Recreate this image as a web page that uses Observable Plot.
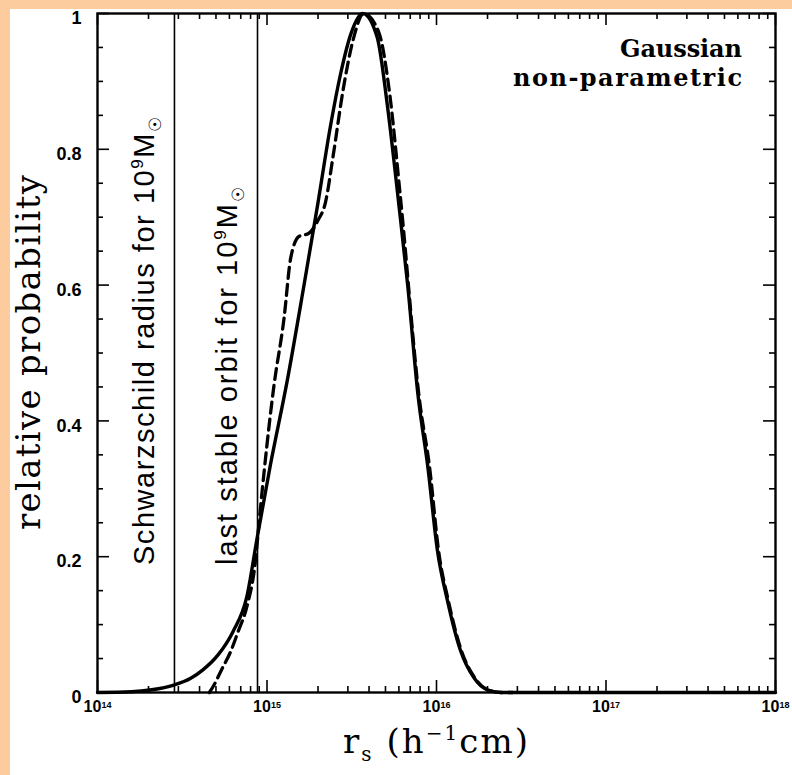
<!DOCTYPE html>
<html><head><meta charset="utf-8">
<script src="https://cdn.jsdelivr.net/npm/d3@7"></script>
<script src="https://cdn.jsdelivr.net/npm/@observablehq/plot@0.6"></script>
<style>
html,body{margin:0;padding:0;background:#fdcc9e;width:792px;height:775px;overflow:hidden}
#chart{position:absolute;left:10px;top:9px;width:782px;height:766px;background:#fff}
</style></head><body><div id="chart"></div>
<script>
// Gaussian model (solid): log10(r_s / h^-1 cm) and relative probability
const gaussLogR = [14.00, 14.20, 14.32, 14.45, 14.55, 14.62, 14.71, 14.80, 14.88, 14.94, 15.02, 15.12, 15.215, 15.30, 15.375, 15.435, 15.495, 15.565, 15.65, 15.71, 15.775, 15.83, 15.89, 15.95, 16.005, 16.065, 16.14, 16.22, 16.30, 16.38, 18.0];
const gaussProb = [0, 0.001, 0.004, 0.011, 0.021, 0.033, 0.055, 0.09, 0.14, 0.225, 0.335, 0.46, 0.595, 0.72, 0.835, 0.912, 0.97, 1.0, 0.965, 0.865, 0.725, 0.60, 0.44, 0.33, 0.21, 0.135, 0.063, 0.022, 0.004, 0, 0];
// non-parametric model (dashed)
const nonparLogR = [14.66, 14.685, 14.735, 14.785, 14.83, 14.885, 14.93, 14.955, 14.985, 15.04, 15.10, 15.14, 15.19, 15.245, 15.30, 15.345, 15.39, 15.45, 15.51, 15.57, 15.66, 15.72, 15.79, 15.90, 15.96, 16.012, 16.07, 16.145, 16.225, 16.30, 16.38, 16.45];
const nonparProb = [0, 0.01, 0.035, 0.06, 0.09, 0.13, 0.19, 0.255, 0.33, 0.45, 0.55, 0.64, 0.672, 0.676, 0.695, 0.722, 0.79, 0.889, 0.963, 1.0, 0.972, 0.889, 0.722, 0.43, 0.33, 0.209, 0.135, 0.063, 0.022, 0.004, 0, 0];
// reference radii for 10^9 solar masses
const refLogR = [14.454, 14.944];
const refText = ["Schwarzschild radius for", "last stable orbit for"];
const xTickExp = [14, 15, 16, 17, 18];
const yTicks = [0, 0.2, 0.4, 0.6, 0.8, 1];
const yTickLabels = ["0", "0.2", "0.4", "0.6", "0.8", "1"];
const legendText = ["Gaussian", "non-parametric"];

const gauss = gaussLogR.map((l, i) => ({r: 10 ** l, p: gaussProb[i]}));
const nonpar = nonparLogR.map((l, i) => ({r: 10 ** l, p: nonparProb[i]}));
const refR = refLogR.map(l => 10 ** l);
const majorX = xTickExp.map(e => 10 ** e);
const minorX = xTickExp.slice(0, -1).flatMap(e => d3.range(2, 10).map(m => m * 10 ** e));
const minorY = d3.range(1, 20).map(i => i * 0.05).filter(v => Math.abs(v * 5 - Math.round(v * 5)) > 1e-6);

const W = 782, H = 766, mL = 87, mR = 17, mT = 4, mB = 83;
const fW = W - mL - mR, fH = H - mT - mB;
const MAJ = 12, MIN = 6;

const svgEl = Plot.plot({
  width: W, height: H, marginLeft: mL, marginRight: mR, marginTop: mT, marginBottom: mB,
  style: {background: "transparent", fontFamily: "Liberation Sans, Arial, sans-serif", overflow: "visible"},
  x: {type: "log", domain: [1e14, 1e18]},
  y: {domain: [0, 1]},
  marks: [
    Plot.axisX(majorX, {tickSize: 0, tickPadding: 8, tickFormat: d => String(Math.round(Math.log10(d))), fontSize: 16, fontWeight: "bold", label: null}),
    Plot.axisY(yTicks, {tickSize: 0, tickPadding: 16, tickFormat: (d, i) => yTickLabels[i], fontSize: 18, fontWeight: "bold", dy: 5, label: null}),
    // inward ticks, bottom & top
    Plot.ruleX(majorX, {insetTop: fH - MAJ, strokeWidth: 1.6}),
    Plot.ruleX(minorX, {insetTop: fH - MIN, strokeWidth: 1.6}),
    Plot.ruleX(majorX, {insetBottom: fH - MAJ, strokeWidth: 1.6}),
    Plot.ruleX(minorX, {insetBottom: fH - MIN, strokeWidth: 1.6}),
    // inward ticks, left & right
    Plot.ruleY(yTicks, {insetRight: fW - MAJ, strokeWidth: 1.6}),
    Plot.ruleY(minorY, {insetRight: fW - MIN, strokeWidth: 1.6}),
    Plot.ruleY(yTicks, {insetLeft: fW - MAJ, strokeWidth: 1.6}),
    Plot.ruleY(minorY, {insetLeft: fW - MIN, strokeWidth: 1.6}),
    Plot.ruleX(refR, {strokeWidth: 1.6}),
    Plot.line(gauss, {x: "r", y: "p", curve: "monotone-x", strokeWidth: 3.4}),
    Plot.line(nonpar, {x: "r", y: "p", curve: "monotone-x", strokeWidth: 3.3, strokeDasharray: "11,6"}),
    Plot.frame({strokeWidth: 2.4})
  ]
});
document.getElementById("chart").appendChild(svgEl);

const svg = d3.select(svgEl);
const xs = svgEl.scale("x"), ys = svgEl.scale("y");

// x tick labels as 10 with superscript exponent
svg.selectAll('g[aria-label="x-axis tick label"] text').each(function() {
  const t = d3.select(this);
  const e = t.text();
  t.text(null);
  t.append("tspan").text("10");
  t.append("tspan").attr("dy", "-0.4em").attr("font-size", 9).text(e);
});

// axis titles
svg.append("text")
  .attr("transform", `translate(30,${ys.apply(0.5)}) rotate(-90)`)
  .attr("text-anchor", "middle").attr("font-family", "DejaVu Serif, serif").attr("font-size", 34)
  .attr("textLength", 355).attr("lengthAdjust", "spacing")
  .text("relative probability");

const xl = svg.append("text")
  .attr("x", 333).attr("y", 744)
  .attr("text-anchor", "start").attr("font-family", "DejaVu Serif, serif").attr("font-size", 34)
  .attr("textLength", 185).attr("lengthAdjust", "spacing");
xl.append("tspan").text("r");
xl.append("tspan").attr("dy", 8).attr("font-size", 20).text("s");
xl.append("tspan").attr("dy", -8).text(" (h");
xl.append("tspan").attr("dy", -13).attr("font-size", 20).text("−1");
xl.append("tspan").attr("dy", 13).text("cm)");

// legend labels
legendText.forEach((s, i) => {
  svg.append("text")
    .attr("x", 732 - [122, 229][i]).attr("y", 48 + i * 29)
    .attr("text-anchor", "start").attr("font-family", "DejaVu Serif, serif").attr("font-weight", "bold").attr("font-size", 24)
    .attr("textLength", [122, 229][i]).attr("lengthAdjust", "spacing")
    .text(s);
});

// rotated labels beside reference lines
const refLen = [448, 378];
refR.forEach((r, i) => {
  const t = svg.append("text")
    .attr("transform", `translate(${xs.apply(r) - 20},${ys.apply(0.187)}) rotate(-90)`)
    .attr("text-anchor", "start")
    .attr("font-family", "Liberation Sans, Arial, sans-serif").attr("font-size", 29)
    .attr("textLength", refLen[i]).attr("lengthAdjust", "spacing");
  t.append("tspan").text(refText[i] + " 10");
  t.append("tspan").attr("dy", -11).attr("font-size", 17).text("9");
  t.append("tspan").attr("dy", 11).text("M");
  t.append("tspan").attr("dy", 7).attr("font-size", 17).text("☉");
});
</script></body></html>
